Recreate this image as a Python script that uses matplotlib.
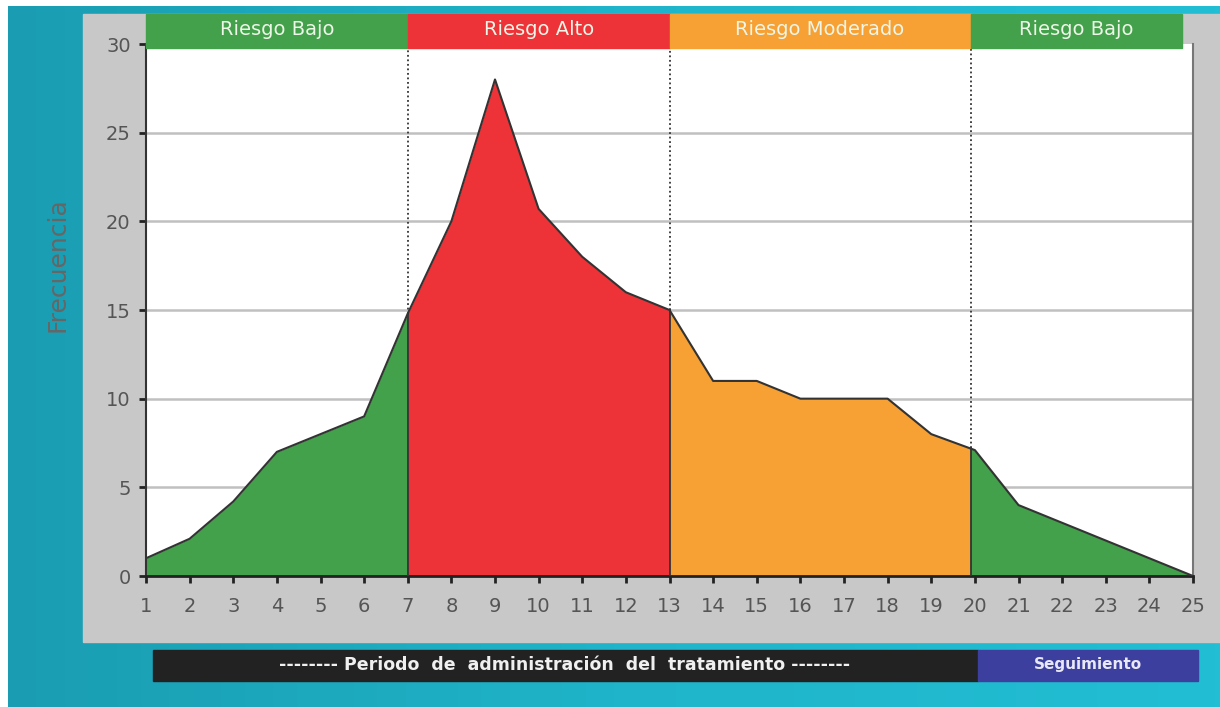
import matplotlib.pyplot as plt
import matplotlib.transforms as mtransforms
from matplotlib.patches import Rectangle
from matplotlib.colors import LinearSegmentedColormap
import numpy as np

# data
dias = np.arange(1, 26)
frecuencia = [1, 2.1, 4.2, 7, 8, 9, 14.8, 20, 28, 20.7, 18, 16, 15,
              11, 11, 10, 10, 10, 8, 7.1, 4, 3, 2, 1, 0]
limites = [1, 7, 13, 19.9, 25]
zonas = ["Riesgo Bajo", "Riesgo Alto", "Riesgo Moderado", "Riesgo Bajo"]
colores = ["#43a04b", "#ee3338", "#f7a033", "#43a04b"]

W, H = 1220, 707
fig = plt.figure(figsize=(W / 100, H / 100), dpi=100)
fig.patch.set_facecolor("white")

def fx(px):
    return px / W

def fy(py):
    return 1 - py / H

# cyan background, slightly darker on the left
bg = fig.add_axes([fx(8), 0, 1 - fx(8), fy(6)])
grad = np.linspace(0, 1, 256).reshape(1, -1)
cmap = LinearSegmentedColormap.from_list("c", ["#1a9db2", "#1fb4c9", "#22bed4"])
bg.imshow(grad, aspect="auto", cmap=cmap, extent=[0, 1, 0, 1])
bg.set_axis_off()

# gray panel
fig.patches.append(Rectangle((fx(83), fy(642)), 1 - fx(83), fy(14) - fy(642),
                             transform=fig.transFigure, color="#c8c8c8", zorder=1))

ax = fig.add_axes([fx(146), fy(576), fx(1193) - fx(146), fy(44) - fy(576)])
ax.set_zorder(2)
ax.set_facecolor("white")
ax.set_xlim(1, 25)
ax.set_ylim(0, 30)

for y in range(5, 30, 5):
    ax.axhline(y, color="#c0c0c0", lw=1.8, zorder=1)

x = np.array(dias, dtype=float)
y = np.array(frecuencia, dtype=float)
for i in range(len(zonas)):
    a, b = limites[i], limites[i + 1]
    xs = [a] + [v for v in x if a < v < b] + [b]
    ys = np.interp(xs, x, y)
    ax.fill_between(xs, 0, ys, color=colores[i], zorder=2, lw=0)

ax.plot(x, y, color="#333333", lw=1.5, zorder=3)
for b in limites[1:-1]:
    yb = np.interp(b, x, y)
    ax.plot([b, b], [0, yb], color="#333333", lw=1.3, zorder=3)
    ax.plot([b, b], [yb, 30], color="#333333", lw=1.3, ls=(0, (1, 1.5)), zorder=3)

# header bands
trans = mtransforms.blended_transform_factory(ax.transData, ax.transAxes)
for i, (nom, col) in enumerate(zip(zonas, colores)):
    a, b = limites[i], limites[i + 1]
    if i == len(zonas) - 1:
        b = 24.75
    ax.add_patch(Rectangle((a, 0.993), b - a, 0.064, transform=trans,
                           color=col, clip_on=False, zorder=5))
    ax.text((a + b) / 2, 1.027, nom, transform=trans, ha="center", va="center",
            color="#eef6e8", fontsize=14, clip_on=False, zorder=6)

ax.spines["top"].set_visible(False)
ax.spines["left"].set_color("#333333")
ax.spines["left"].set_linewidth(1.5)
ax.spines["bottom"].set_color("#222222")
ax.spines["bottom"].set_linewidth(2)
ax.spines["right"].set_color("#777777")
ax.spines["right"].set_linewidth(1.5)

ax.set_xticks(dias)
ax.set_yticks(range(0, 31, 5))
ax.tick_params(axis="x", direction="out", length=5, width=2, colors="#222222",
               labelcolor="#555555", labelsize=14, pad=10)
ax.tick_params(axis="y", direction="out", length=5, width=2, colors="#222222",
               labelcolor="#555555", labelsize=14, pad=6)
ax.set_ylabel("Frecuencia", fontsize=18, color="#666666")
ax.yaxis.set_label_coords(-0.073, 0.585)

# bottom bars
fig.patches.append(Rectangle((fx(153), fy(681)), fx(978) - fx(153), fy(650) - fy(681),
                             transform=fig.transFigure, color="#222222", zorder=3))
fig.patches.append(Rectangle((fx(978), fy(681)), fx(1198) - fx(978), fy(650) - fy(681),
                             transform=fig.transFigure, color="#3d3f9e", zorder=3))
fig.text(fx(565), fy(665), "-------- Periodo  de  administración  del  tratamiento --------",
         ha="center", va="center", color="#f0f0f0", fontsize=12.5, fontweight="bold", zorder=4)
fig.text(fx(1088), fy(665), "Seguimiento", ha="center", va="center",
         color="#e8e8f5", fontsize=11, fontweight="bold", zorder=4)

fig.savefig("out.png", dpi=100)
